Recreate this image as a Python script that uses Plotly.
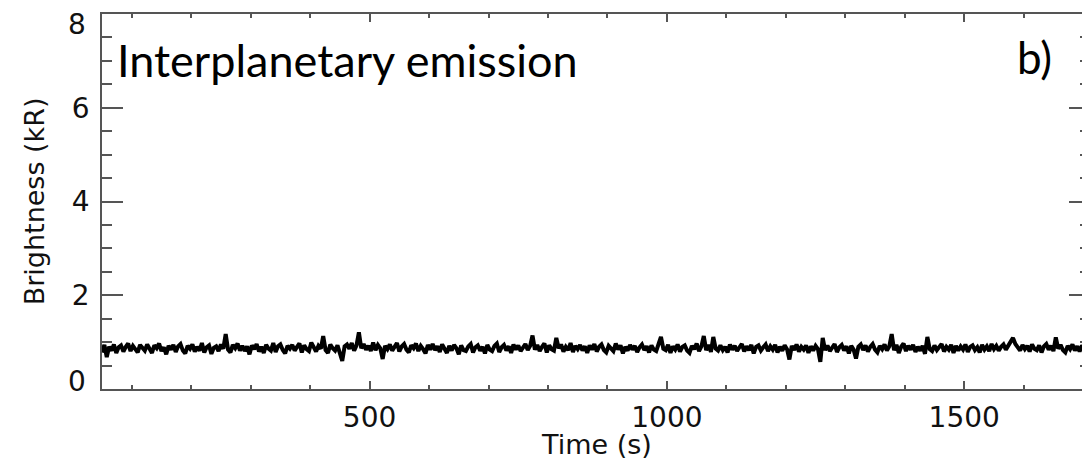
import numpy as np
import plotly.graph_objects as go

# Sampling times (s), every 4 s across the observation
time_s = np.arange(50, 1711, 4)

# Brightness (kR)
brightness_kR = [
    0.78, 0.94, 0.68, 0.90, 0.82, 0.95, 0.77, 0.89, 0.93, 0.80, 0.90, 0.97, 0.81, 0.92, 0.85, 0.78, 0.94, 0.86, 0.82, 0.95,
    0.85, 0.77, 0.93, 0.87, 0.97, 0.81, 0.89, 0.74, 0.92, 0.84, 0.94, 0.79, 0.91, 0.96, 0.82, 0.76, 0.92, 0.86, 0.95, 0.80,
    0.90, 0.82, 0.98, 0.78, 0.89, 0.93, 0.75, 0.88, 0.91, 0.81, 0.95, 0.86, 1.17, 0.84, 0.78, 0.94, 0.87, 0.97, 0.82, 0.92,
    0.81, 0.91, 0.74, 0.93, 0.85, 0.96, 0.80, 0.90, 0.77, 0.94, 0.86, 0.82, 0.98, 0.79, 0.91, 0.95, 0.83, 0.76, 0.92, 0.86,
    0.94, 0.82, 0.90, 0.97, 0.78, 0.93, 0.85, 0.81, 0.99, 0.87, 0.80, 0.92, 0.86, 1.13, 0.83, 0.77, 0.95, 0.87, 0.82, 0.93,
    0.78, 0.60, 0.91, 0.95, 0.86, 0.98, 0.82, 0.93, 1.21, 0.87, 0.96, 0.84, 0.92, 0.81, 0.99, 0.83, 0.94, 0.87, 0.64, 0.92,
    0.85, 0.95, 0.82, 0.92, 0.98, 0.80, 0.91, 0.96, 0.84, 0.78, 0.93, 0.87, 0.97, 0.81, 0.92, 0.85, 0.76, 0.94, 0.84, 0.96,
    0.83, 0.91, 0.79, 0.95, 0.85, 0.77, 0.92, 0.82, 0.94, 0.87, 0.74, 0.93, 0.83, 0.81, 0.91, 0.96, 0.78, 0.89, 0.93, 0.82,
    0.90, 0.76, 0.94, 0.84, 0.81, 0.92, 0.97, 0.79, 0.89, 0.94, 0.82, 0.91, 0.77, 0.95, 0.84, 0.93, 0.81, 0.90, 0.96, 0.83,
    0.92, 1.14, 0.84, 0.94, 0.81, 0.90, 0.97, 0.78, 0.93, 0.85, 0.82, 1.09, 0.87, 0.95, 0.80, 0.90, 0.83, 0.98, 0.79, 0.92,
    0.85, 0.94, 0.82, 0.91, 0.77, 0.93, 0.84, 0.96, 0.80, 0.90, 0.95, 0.83, 0.78, 0.92, 0.85, 0.81, 0.97, 0.84, 0.93, 0.76,
    0.90, 0.82, 0.94, 0.84, 0.92, 0.79, 0.89, 0.95, 0.83, 0.91, 0.78, 0.93, 0.84, 0.81, 0.96, 1.11, 0.86, 0.83, 0.94, 0.77,
    0.91, 0.84, 0.95, 0.80, 0.90, 0.93, 0.82, 0.77, 0.92, 0.85, 0.97, 0.81, 0.91, 1.13, 0.83, 0.94, 0.79, 1.11, 0.86, 0.82,
    0.93, 0.83, 0.90, 0.78, 0.95, 0.84, 0.92, 0.81, 0.89, 0.96, 0.80, 0.91, 0.83, 0.94, 0.76, 0.90, 0.93, 0.82, 0.89, 0.95,
    0.81, 0.91, 0.84, 0.94, 0.78, 0.90, 0.82, 0.93, 0.85, 0.63, 0.92, 0.83, 0.95, 0.80, 0.90, 0.84, 0.93, 0.77, 0.91, 0.82,
    0.92, 0.85, 0.58, 1.09, 0.83, 0.93, 0.81, 0.90, 0.96, 0.79, 0.89, 0.94, 0.82, 0.91, 0.76, 0.92, 0.84, 0.65, 0.90, 0.95,
    0.83, 0.93, 0.80, 0.90, 0.96, 0.84, 0.78, 0.92, 0.85, 0.95, 0.82, 0.91, 1.17, 0.83, 0.94, 0.77, 0.90, 0.97, 0.81, 0.92,
    0.84, 0.94, 0.79, 0.90, 0.82, 0.92, 0.75, 1.11, 0.85, 0.81, 0.93, 0.83, 0.91, 0.96, 0.80, 0.90, 0.84, 0.94, 0.77, 0.92,
    0.82, 0.91, 0.84, 0.95, 0.79, 0.90, 0.93, 0.83, 0.89, 0.78, 0.94, 0.84, 0.91, 0.81, 0.96, 0.85, 0.92, 0.82, 0.90, 0.95,
    0.84, 0.93, 0.98, 1.09, 0.96, 0.87, 0.82, 0.94, 0.85, 0.92, 0.80, 0.95, 0.86, 0.83, 0.93, 0.78, 0.91, 0.96, 0.84, 0.92,
    0.81, 1.10, 0.86, 0.94, 0.83, 0.78, 0.92, 0.85, 0.95, 0.82, 0.91, 0.80, 0.93, 0.84, 1.07, 0.86,
]

x_tickvals = [500, 1000, 1500]
y_tickvals = [2, 4, 6]        # labelled on the axis
y_edge_labels = [0, 8]        # labelled at the axis ends (nudged inward, as in the original)

panel_label = "Interplanetary emission"
panel_tag = "b)"
x_title = "Time (s)"
y_title = "Brightness (kR)"

fig = go.Figure()
fig.add_trace(go.Scatter(
    x=time_s, y=brightness_kR, mode="lines",
    line=dict(color="black", width=4),
    showlegend=False, hoverinfo="skip",
))

axis_font = dict(family="DejaVu Sans", size=27, color="#111")
tick_font = dict(family="DejaVu Sans", size=28, color="#111")
line_col = "#555"

fig.update_xaxes(
    range=[50, 1711.5], tickvals=x_tickvals, ticktext=[str(v) for v in x_tickvals],
    ticks="inside", ticklen=8, tickwidth=1.5, tickcolor=line_col,
    showline=True, linecolor=line_col, linewidth=1.5, mirror="ticks",
    showgrid=False, zeroline=False, automargin=False,
    minor=dict(dtick=100, tick0=0, ticks="inside", ticklen=4, tickwidth=1.5, tickcolor=line_col, showgrid=False),
    tickfont=tick_font, ticklabelstandoff=3,
)
fig.update_yaxes(
    range=[0, 8], tickvals=y_tickvals + y_edge_labels,
    ticktext=[str(v) for v in y_tickvals] + ["", ""],
    ticks="inside", ticklen=21, tickwidth=1.5, tickcolor=line_col,
    showline=True, linecolor=line_col, linewidth=1.5, mirror="ticks",
    showgrid=False, zeroline=False, automargin=False,
    minor=dict(dtick=0.5, tick0=0, ticks="inside", ticklen=10, tickwidth=1.5, tickcolor=line_col, showgrid=False),
    tickfont=tick_font, ticklabelstandoff=5,
)

for v, shift in zip(y_edge_labels, [8, -10]):
    fig.add_annotation(
        text=str(v), xref="paper", yref="y", x=-0.0142, y=v, yshift=shift,
        xanchor="right", yanchor="middle", showarrow=False, font=tick_font,
    )

# axis titles placed as annotations for exact positioning
fig.add_annotation(
    text=x_title, xref="paper", yref="paper", x=0.5, y=-0.149,
    xanchor="center", yanchor="middle", showarrow=False, font=axis_font,
)
fig.add_annotation(
    text=y_title, xref="paper", yref="paper", x=-0.068, y=0.5, textangle=-90,
    xanchor="center", yanchor="middle", showarrow=False, font=axis_font,
)

fig.add_annotation(
    text=panel_label, xref="paper", yref="paper", x=0.0135, y=0.877,
    xanchor="left", yanchor="middle", showarrow=False,
    font=dict(family="Lato", size=45, color="black"),
)
fig.add_annotation(
    text=panel_tag, xref="paper", yref="paper", x=0.944, y=0.885,
    xanchor="center", yanchor="middle", showarrow=False,
    font=dict(family="Lato", size=44, color="black"),
)

# The page body carries an 8 px default margin, so the figure is sized and
# padded so that its plot area lands where the original's does.
fig.update_layout(
    width=1082, height=454,
    margin=dict(l=94, r=0, t=6, b=73),
    paper_bgcolor="white", plot_bgcolor="white",
)

fig.write_html("out.html")
